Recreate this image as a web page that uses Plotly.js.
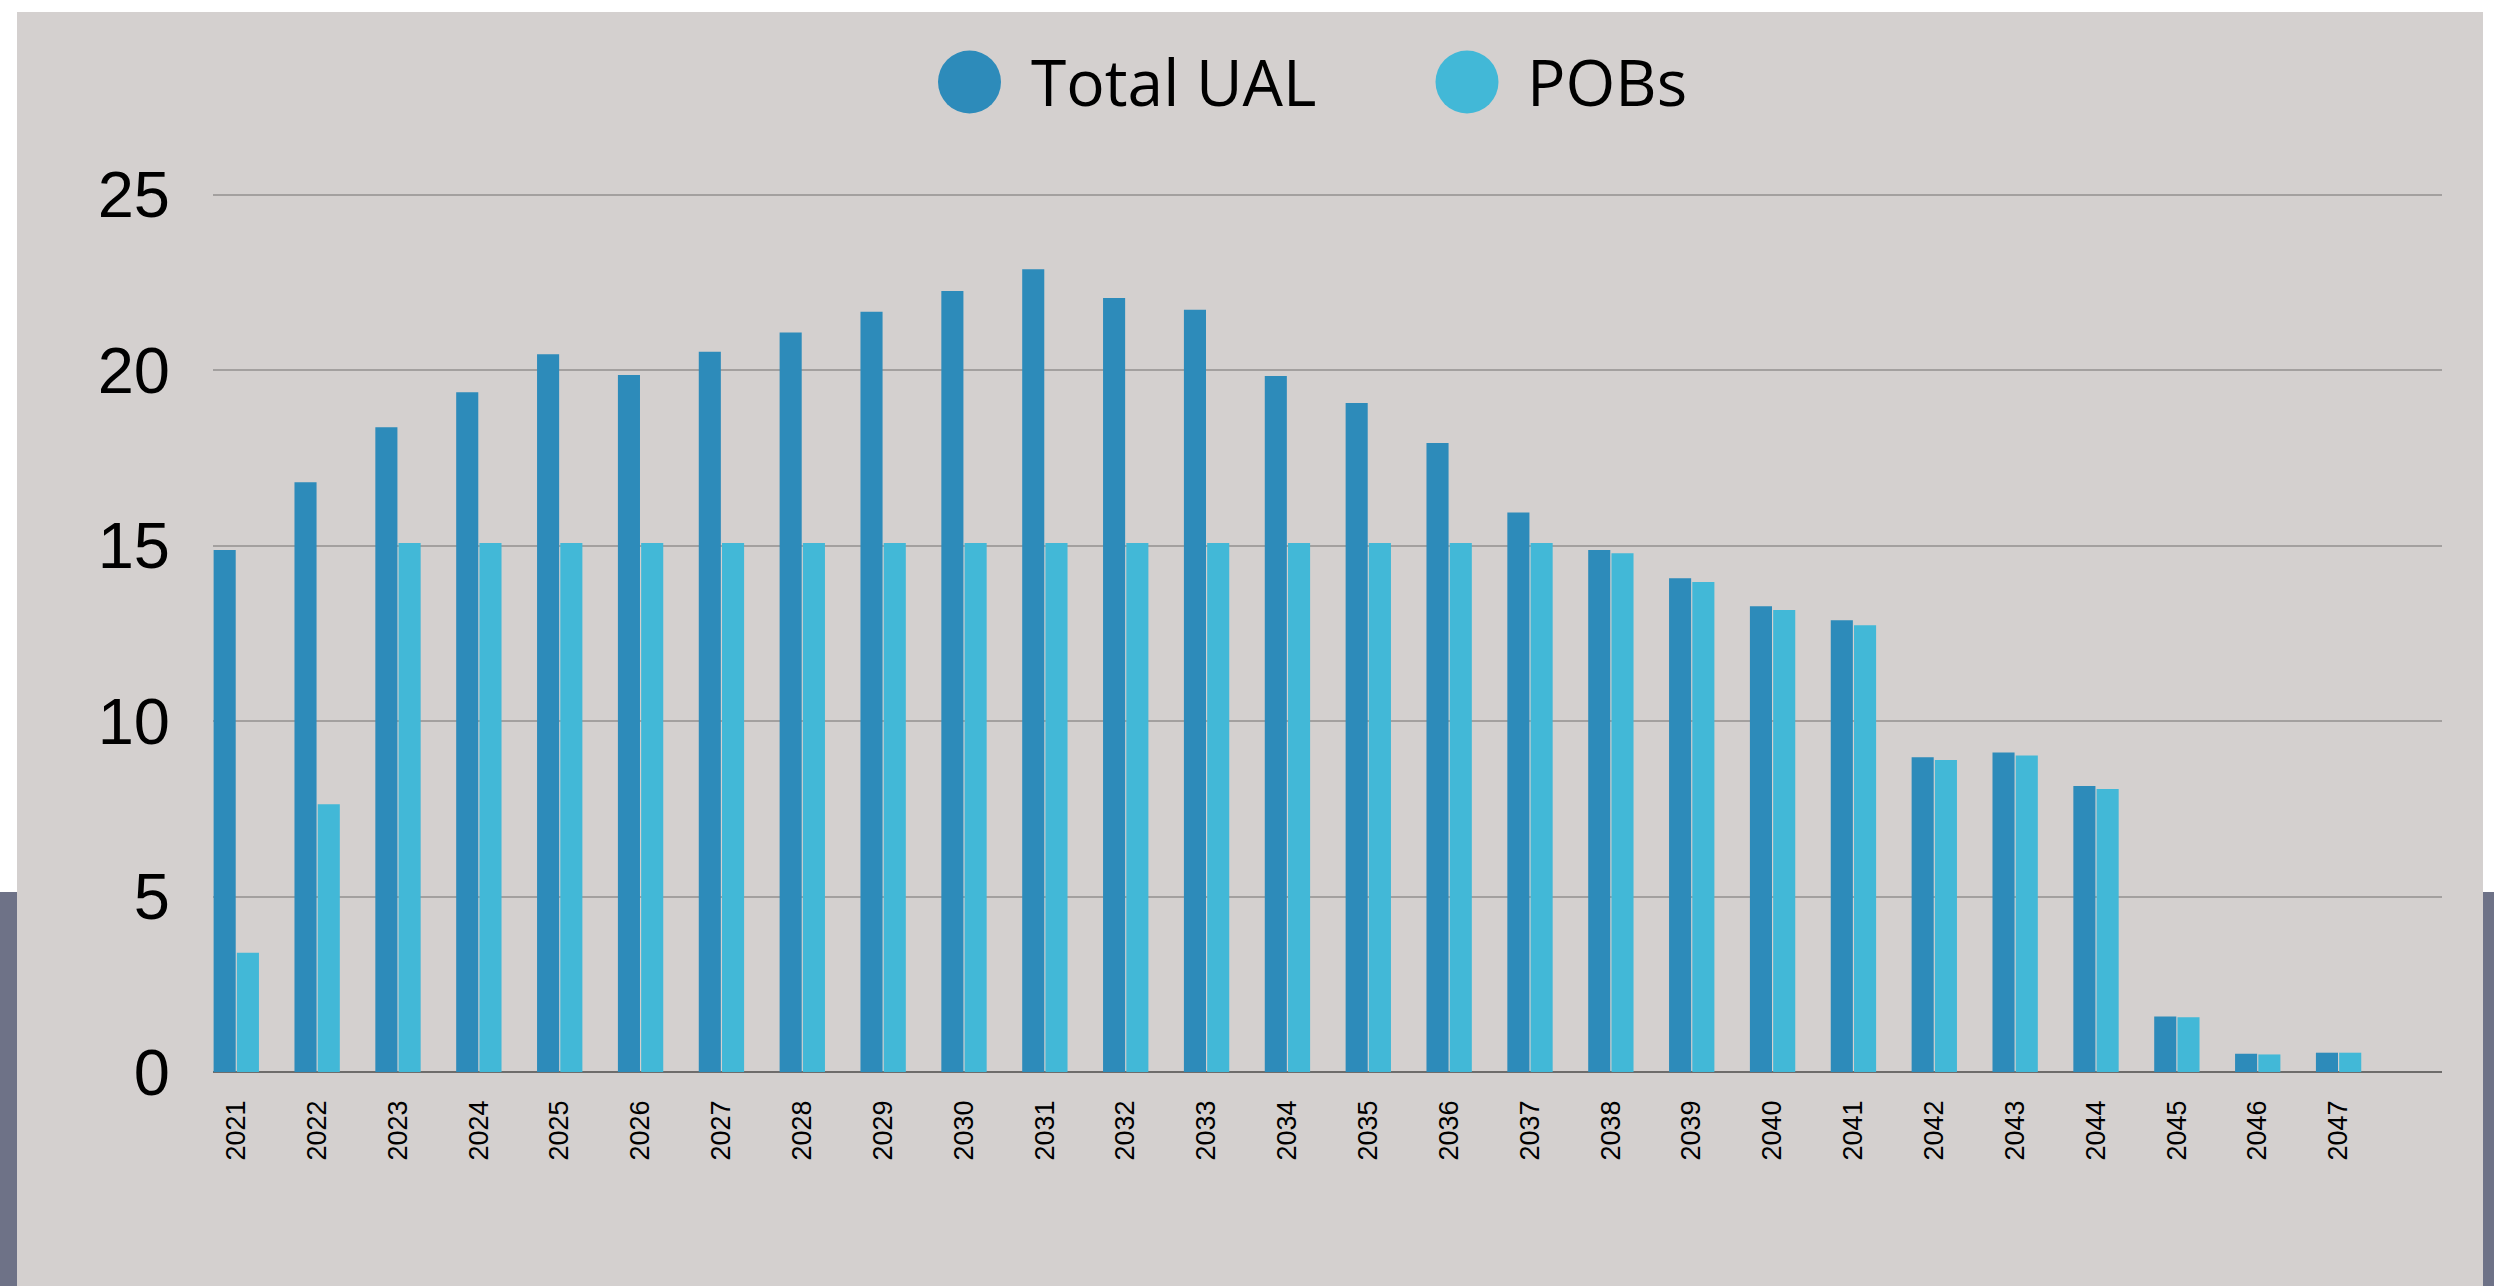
<!DOCTYPE html>
<html>
<head>
<meta charset="utf-8">
<script src="https://cdn.plot.ly/plotly-3.0.1.min.js"></script>
<style>
  html, body { margin: 0; padding: 0; background: #ffffff; }
  #chart { width: 2494px; height: 1286px; }
</style>
</head>
<body>
<div id="chart"></div>
<script>
// ---- Data ----
const years = ['2021','2022','2023','2024','2025','2026','2027','2028','2029','2030',
               '2031','2032','2033','2034','2035','2036','2037','2038','2039','2040',
               '2041','2042','2043','2044','2045','2046','2047'];

const totalUAL = [14.87, 16.80, 18.37, 19.37, 20.45, 19.86, 20.52, 21.07, 21.66, 22.25,
                  22.87, 22.05, 21.72, 19.83, 19.06, 17.92, 15.94, 14.87, 14.07, 13.27,
                  12.87, 8.97, 9.10, 8.15, 1.58, 0.52, 0.55];

const pobs = [3.40, 7.63, 15.07, 15.07, 15.07, 15.07, 15.07, 15.07, 15.07, 15.07,
              15.07, 15.07, 15.07, 15.07, 15.07, 15.07, 15.07, 14.78, 13.96, 13.16,
              12.73, 8.89, 9.02, 8.06, 1.56, 0.50, 0.55];

const seriesNames = ['Total UAL', 'POBs'];
const yTicks = [0, 5, 10, 15, 20, 25];

// ---- Styling ----
const COLOR_UAL = '#2d8bba';
const COLOR_POB = '#42b8d7';
const PANEL = '#d4d0cf';
const STRIP = '#6e7287';

const FIG_W = 2494, FIG_H = 1286;
const M = { l: 213, r: 52, t: 184, b: 214 };
const PW = FIG_W - M.l - M.r;
const PH = FIG_H - M.t - M.b;
const px = q => (q - M.l) / PW;           // pixel x -> paper x
const py = p => (FIG_H - M.b - p) / PH;   // pixel y -> paper y

const traces = [
  {
    type: 'bar', name: seriesNames[0], x: years, y: totalUAL,
    marker: { color: COLOR_UAL, line: { width: 0 } },
    hoverinfo: 'x+y+name'
  },
  {
    type: 'bar', name: seriesNames[1], x: years, y: pobs,
    marker: { color: COLOR_POB, line: { width: 0 } },
    hoverinfo: 'x+y+name'
  }
];

const shapes = [
  // grey panel
  { type: 'rect', xref: 'paper', yref: 'paper', layer: 'below',
    x0: px(17), x1: px(2483), y0: py(12), y1: py(1290),
    fillcolor: PANEL, line: { width: 0 } },
  // dark side strips
  { type: 'rect', xref: 'paper', yref: 'paper', layer: 'below',
    x0: px(-5), x1: px(17), y0: py(892), y1: py(1290),
    fillcolor: STRIP, line: { width: 0 } },
  { type: 'rect', xref: 'paper', yref: 'paper', layer: 'below',
    x0: px(2483), x1: px(2500), y0: py(892), y1: py(1290),
    fillcolor: STRIP, line: { width: 0 } },
  // legend circles
  { type: 'circle', xref: 'paper', yref: 'paper',
    x0: px(938), x1: px(1001), y0: py(113.5), y1: py(50.5),
    fillcolor: COLOR_UAL, line: { width: 0 } },
  { type: 'circle', xref: 'paper', yref: 'paper',
    x0: px(1435.5), x1: px(1498.5), y0: py(113.5), y1: py(50.5),
    fillcolor: COLOR_POB, line: { width: 0 } }
];

const legendFont = { family: 'Open Sans, Noto Sans, sans-serif', size: 64, color: '#000000' };
const annotations = [
  { xref: 'paper', yref: 'paper', x: px(1029), y: py(82), xanchor: 'left', yanchor: 'middle',
    text: seriesNames[0], showarrow: false, font: legendFont },
  { xref: 'paper', yref: 'paper', x: px(1525), y: py(82), xanchor: 'left', yanchor: 'middle',
    text: seriesNames[1], showarrow: false, font: legendFont }
];

const layout = {
  width: FIG_W, height: FIG_H,
  margin: { l: M.l, r: M.r, t: M.t, b: M.b, pad: 0 },
  paper_bgcolor: '#ffffff',
  plot_bgcolor: 'rgba(0,0,0,0)',
  showlegend: false,
  barmode: 'group',
  bargap: 0.425,
  bargroupgap: 0.05,
  xaxis: {
    type: 'category',
    range: [-0.288, 27.279],
    showgrid: false, zeroline: false, showline: false,
    ticks: '',
    tickangle: -90,
    tickfont: { family: 'Liberation Sans, Arial, sans-serif', size: 27, color: '#000000' },
    ticklabelstandoff: 22
  },
  yaxis: {
    range: [0, 25.3],
    tickvals: yTicks,
    ticktext: yTicks.map(String),
    showgrid: true, gridcolor: '#a3a09f', gridwidth: 2,
    zeroline: true, zerolinecolor: '#6e6c6b', zerolinewidth: 2,
    showline: false,
    ticks: '',
    tickfont: { family: 'Liberation Sans, Arial, sans-serif', size: 65, color: '#000000' },
    ticklabelstandoff: 42
  },
  shapes: shapes,
  annotations: annotations
};

Plotly.newPlot('chart', traces, layout, { displayModeBar: false, staticPlot: true });
</script>
</body>
</html>
